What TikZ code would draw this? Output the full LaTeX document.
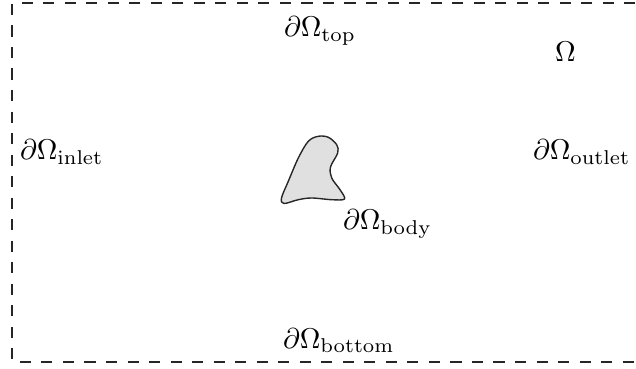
\documentclass[tikz,border=0pt]{standalone}
\begin{document}
\begin{tikzpicture}[x=0.36pt,y=-0.36pt,
  lbl/.style={anchor=base west,inner sep=0pt,outer sep=0pt,scale=1.03},
  domainbox/.style={line width=0.65pt,dash pattern=on 4pt off 3.75pt,color=black!85},
  bodyshape/.style={fill=black!12,draw=black!85,line width=0.5pt}]
\useasboundingbox (0,0) rectangle (636,369);
\clip (0,0) rectangle (636,369);
\draw[domainbox] (700,3) -- (12,3) -- (12,362) -- (700,362);
\draw[bodyshape] plot[smooth cycle,tension=0.55] coordinates {
  (318.3,136.3) (328.3,137.3) (336.7,144.7) (337.7,153) (330.5,167)
  (331.7,178) (340,189.7) (344.5,199) (331.7,199.7) (311.7,198)
  (298.3,199.7) (284,203.5) (281.5,198) (288.3,181.3) (298.3,158) (308.3,141.3)};
\node[lbl] (top) at (284,37) {$\partial\Omega_{\mathrm{top}}$};
\node[lbl] (omega) at (555,62) {$\Omega$};
\node[lbl] (inlet) at (20,160) {$\partial\Omega_{\mathrm{inlet}}$};
\node[lbl] (outlet) at (533,160) {$\partial\Omega_{\mathrm{outlet}}$};
\node[lbl] (body) at (343,230) {$\partial\Omega_{\mathrm{body}}$};
\node[lbl] (bottom) at (283,348) {$\partial\Omega_{\mathrm{bottom}}$};
\end{tikzpicture}
\end{document}
